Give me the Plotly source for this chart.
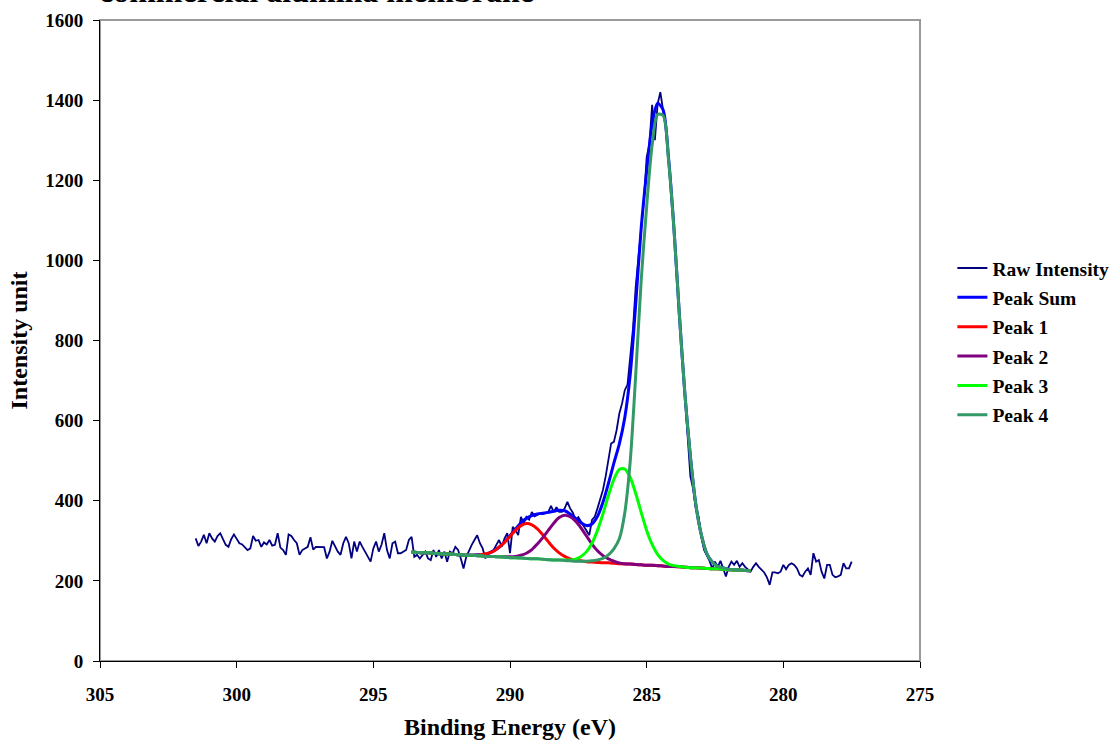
import plotly.graph_objects as go

# ---------------- data ----------------
raw_start_be = 301.5
raw_step_be = 0.1
raw_intensity = [
    306, 287, 298, 315, 294, 319, 306, 298, 312, 319,
    304, 290, 285, 304, 316, 306, 294, 291, 285, 277,
    281, 312, 300, 302, 285, 296, 291, 302, 288, 290,
    319, 283, 277, 265, 316, 312, 302, 294, 265, 277,
    281, 285, 309, 278, 285, 285, 285, 284, 256, 273,
    300, 285, 273, 265, 294, 310, 294, 256, 298, 273,
    298,
    285, 273, 260, 248, 281, 298, 273, 290, 319, 277,
    256, 294, 298, 269, 269, 273, 277, 302, 310, 260,
    265, 256, 265, 273, 256, 252, 277, 260, 277, 256,
    273, 248, 273, 269, 285, 277, 256, 231, 260, 277,
    290, 302, 314, 294, 281, 256, 269, 273, 277, 290,
    302, 285, 306, 319, 269, 335, 327, 314, 360, 344,
    360, 353, 372, 361, 364, 368, 367, 370, 372, 387,
    372, 384, 372, 372, 381, 397, 381, 370, 352, 359,
    348, 337, 323, 314, 352, 360, 381, 402, 427, 461,
    502, 543, 547, 576, 618, 643, 676,
    690, 760, 830, 935, 1000, 1080, 1150, 1258, 1290, 1388,
    1300, 1390, 1420, 1370, 1330, 1250, 1160, 1080, 960, 860,
    750, 660,
    560, 460, 430, 380, 360, 310, 277, 265, 250, 231,
    248, 235, 250, 231, 211, 235, 248, 240, 250, 235,
    244, 235, 229, 223, 235, 244, 235, 227, 221, 209,
    190, 221, 221, 219, 223, 240, 229, 240, 244, 240,
    231, 215, 211, 223, 231, 215, 269, 248, 252, 223,
    206, 240, 240, 215, 209, 211, 215, 244, 231, 231,
    248,
]
raw_be = [round(raw_start_be - raw_step_be * i, 2) for i in range(len(raw_intensity))]

fit_start_be = 293.6
fit_step_be = 0.2
peak_sum = [
    272, 271, 270, 270, 269, 268, 267, 267, 266, 265, 264,
    264, 265, 265, 268, 275, 284, 297, 313, 329, 345,
    356, 363, 367, 369, 371, 374, 376, 375, 367, 356, 345,
    338, 342, 361, 396, 443, 494, 542, 608, 716,
    892, 1081, 1222, 1340, 1392, 1376, 1256, 1078, 861, 665,
    510, 390, 315, 268, 247, 236, 232, 229, 228, 227, 226, 225,
]
peak_1 = [
    272, 271, 270, 270, 269, 268, 267, 267, 266, 265, 264,
    264, 264, 266, 269, 274, 284, 296, 311, 326, 338,
    343, 340, 330, 315, 298, 282, 270, 261, 255, 251, 250,
    248, 247, 246, 245, 245, 244, 243, 242, 242, 241,
    240, 239, 239, 238, 237, 236, 236, 235, 234, 233,
    233, 232, 231, 230, 230, 229, 228, 227, 227, 226, 225,
]
peak_2 = [
    272, 271, 270, 270, 269, 268, 267, 267, 266, 265,
    264, 264, 263, 262, 261, 261,
    260, 260, 260, 261, 264, 269, 278, 292, 308, 326,
    344, 358, 364, 360, 349, 332, 312, 292, 275, 263,
    255, 249, 245, 243, 242,
    241, 240, 239, 239, 238, 237, 236, 236, 235, 234,
    233, 233, 232, 231, 230, 230, 229, 228, 227, 227, 226, 225,
]
peak_3 = [
    272, 271, 270, 270, 269, 268, 267, 267, 266, 265,
    264, 264, 263, 262, 261, 261, 260, 259, 258, 258,
    257, 256, 255, 255, 254, 253, 252, 252,
    252, 252, 254, 261, 273, 294, 326, 367, 413, 453,
    478, 479, 458, 418, 371, 326, 291, 266, 251, 242,
    238, 236,
    234, 233, 233, 232, 231, 230, 230, 229, 228, 227, 227, 226, 225,
]
peak_4 = [
    272, 271, 270, 270, 269, 268, 267, 267, 266, 265,
    264, 264, 263, 262, 261, 261, 260, 259, 258, 258,
    257, 256, 255, 255, 254, 253, 252, 252, 251, 250,
    249, 249,
    249, 250, 252, 256, 265, 280, 305, 370, 500, 715,
    950, 1135, 1288, 1364, 1362, 1250, 1076, 860, 665, 510,
    390, 315, 268, 247, 236, 232, 229, 228, 227, 226, 225,
]
fit_be = [round(fit_start_be - fit_step_be * i, 2) for i in range(len(peak_sum))]

x_ticks = [305, 300, 295, 290, 285, 280, 275]
y_ticks = [0, 200, 400, 600, 800, 1000, 1200, 1400, 1600]

# ---------------- figure ----------------
FONT = "Liberation Serif, Times New Roman, serif"
fig = go.Figure()

fig.add_trace(go.Scatter(x=raw_be, y=raw_intensity, mode="lines", name="Raw Intensity",
                         legendgroup="raw", line=dict(color="#000080", width=1.8)))
fit_series = [
    ("Peak Sum", peak_sum, "#0000FF"),
    ("Peak 1", peak_1, "#FF0000"),
    ("Peak 2", peak_2, "#800080"),
    ("Peak 3", peak_3, "#00FF00"),
    ("Peak 4", peak_4, "#339966"),
]
for name, vals, color in fit_series:
    fig.add_trace(go.Scatter(x=fit_be, y=vals, mode="lines", name=name, legendgroup=name,
                             line=dict(color=color, width=3, shape="spline", smoothing=0.8)))

fig.update_layout(
    width=1117, height=742,
    margin=dict(l=100, r=197, t=20, b=81, autoexpand=False),
    paper_bgcolor="white", plot_bgcolor="white",
    font=dict(family=FONT, color="black"),
    showlegend=True,
    legend=dict(x=1.0395, xanchor="left", y=0.643, yanchor="top",
                font=dict(family=FONT, size=19.5, weight="bold", color="black"),
                bgcolor="rgba(0,0,0,0)", tracegroupgap=1, itemwidth=30,
                traceorder="grouped"),
    xaxis=dict(range=[305, 275], tickvals=x_ticks, ticktext=[str(v) for v in x_ticks],
               ticks="outside", ticklen=6, tickcolor="black", showline=True,
               linecolor="black", linewidth=1, showgrid=False, zeroline=False,
               automargin=False,
               tickfont=dict(family=FONT, size=19, weight="bold"), ticklabelstandoff=10,
               title=dict(text="Binding Energy (eV)", standoff=14,
                          font=dict(family=FONT, size=24, weight="bold"))),
    yaxis=dict(range=[0, 1600], tickvals=y_ticks, ticktext=[str(v) for v in y_ticks],
               ticks="outside", ticklen=6, tickcolor="black", showline=True,
               linecolor="black", linewidth=1, showgrid=False, zeroline=False,
               automargin=False,
               tickfont=dict(family=FONT, size=19, weight="bold"), ticklabelstandoff=6,
               title=dict(text="Intensity unit", standoff=10,
                          font=dict(family=FONT, size=24, weight="bold"))),
    shapes=[dict(type="rect", xref="paper", yref="paper", x0=0, x1=1, y0=0, y1=1,
                 line=dict(color="#9a9a9a", width=2), layer="below")],
    annotations=[dict(text="commercial alumina membrane", xref="paper", yref="paper",
                      x=-0.004, xanchor="left", y=1.014, yanchor="bottom", showarrow=False,
                      font=dict(family=FONT, size=32, weight="bold", color="black"))],
)

fig.write_html("out.html")
